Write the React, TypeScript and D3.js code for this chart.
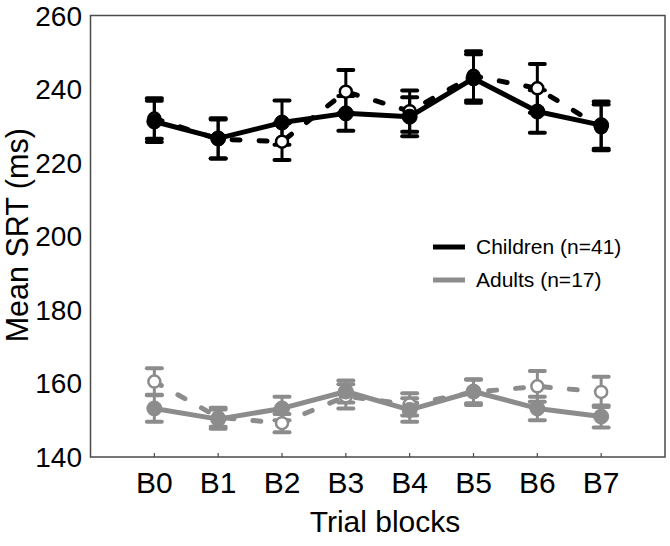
import * as d3 from "d3";

const categories = ["B0", "B1", "B2", "B3", "B4", "B5", "B6", "B7"];
const yTicks = [140, 160, 180, 200, 220, 240, 260];

// children, filled markers / solid line
const childSolid = [231.2, 226.6, 230.9, 233.4, 232.5, 242.9, 233.9, 230.2];
const childSolidErr = [5.6, 5.5, 6.0, 4.7, 5.3, 6.6, 5.8, 6.4];
// children, open markers / dashed line
const childDashed = [232.0, 226.4, 225.7, 239.3, 234.0, 243.6, 240.2, 229.6];
const childDashedErr = [5.5, 5.3, 5.0, 5.9, 5.6, 6.7, 6.6, 6.2];
// adults
const adultSolid = [153.2, 150.3, 153.2, 157.8, 152.8, 157.8, 153.2, 151.0];
const adultSolidErr = [3.6, 2.6, 3.2, 3.0, 3.2, 3.2, 3.2, 3.0];
const adultDashed = [160.5, 150.8, 149.2, 156.5, 154.3, 157.6, 159.2, 157.7];
const adultDashedErr = [3.6, 2.6, 2.5, 3.3, 3.0, 3.5, 4.2, 4.1];

const legendItems = [
  { label: "Children (n=41)", color: "#000000" },
  { label: "Adults (n=17)", color: "#8c8c8c" },
];

const W = 670;
const H = 546;
const plot = { left: 90.5, right: 665, top: 15.5, bottom: 457 };
const font = "'Liberation Sans', Arial, Helvetica, sans-serif";

export default function App() {
  const x = d3.scaleLinear().domain([-1, 8]).range([plot.left, plot.right]);
  const y = d3.scaleLinear().domain([140, 260]).range([plot.bottom, plot.top]);

  const line = d3
    .line<number>()
    .x((_, i) => x(i))
    .y((d) => y(d));

  const series = [
    { vals: childDashed, err: childDashedErr, color: "#000", dashed: true, open: true, r: 6 },
    { vals: childSolid, err: childSolidErr, color: "#000", dashed: false, open: false, r: 7.5 },
    { vals: adultDashed, err: adultDashedErr, color: "#8c8c8c", dashed: true, open: true, r: 6 },
    { vals: adultSolid, err: adultSolidErr, color: "#8c8c8c", dashed: false, open: false, r: 7.5 },
  ];

  const capW = 7.5;

  return (
    <svg
      width={W}
      height={H}
      style={{ position: "absolute", left: 0, top: 0, background: "#fff" }}
      fontFamily={font}
    >
      <rect
        x={plot.left}
        y={plot.top}
        width={plot.right - plot.left}
        height={plot.bottom - plot.top}
        fill="none"
        stroke="#4a4a4a"
        strokeWidth={1.5}
      />

      {/* x ticks + labels */}
      {categories.map((c, i) => (
        <g key={c}>
          <line x1={x(i)} x2={x(i)} y1={plot.bottom} y2={plot.bottom - 4} stroke="#4a4a4a" strokeWidth={1.2} />
          <text x={x(i)} y={493} fontSize={30} textAnchor="middle" fill="#000">
            {c}
          </text>
        </g>
      ))}

      {/* y labels */}
      {yTicks.map((t) => (
        <text key={t} x={82} y={y(t) + 10} fontSize={28} textAnchor="end" fill="#000">
          {t}
        </text>
      ))}

      <text x={385} y={532} fontSize={30} textAnchor="middle" fill="#000">
        Trial blocks
      </text>
      <text
        transform={`translate(28,${(plot.top + plot.bottom) / 2 - 1}) rotate(-90)`}
        fontSize={30.5}
        textAnchor="middle"
        fill="#000"
      >
        Mean SRT (ms)
      </text>

      {/* lines */}
      {series.map((s, k) => (
        <path
          key={"l" + k}
          d={line(s.vals) ?? ""}
          fill="none"
          stroke={s.color}
          strokeWidth={5}
          strokeLinecap="round"
          strokeLinejoin="round"
          strokeDasharray={s.dashed ? "8 19" : undefined}
        />
      ))}

      {/* error bars */}
      {series.map((s, k) =>
        s.vals.map((v, i) => {
          const cx = x(i);
          const top = y(v + s.err[i]);
          const bot = y(v - s.err[i]);
          return (
            <g key={"e" + k + "-" + i} stroke={s.color} strokeLinecap="round">
              <line x1={cx} x2={cx} y1={top} y2={bot} strokeWidth={3} />
              <line x1={cx - capW} x2={cx + capW} y1={top} y2={top} strokeWidth={4} />
              <line x1={cx - capW} x2={cx + capW} y1={bot} y2={bot} strokeWidth={4} />
            </g>
          );
        })
      )}

      {/* markers: open first, filled on top */}
      {[0, 2, 1, 3].map((k) => {
        const s = series[k];
        return s.vals.map((v, i) => (
          <circle
            key={"m" + k + "-" + i}
            cx={x(i)}
            cy={y(v)}
            r={s.r}
            fill={s.open ? "#fff" : s.color}
            stroke={s.color}
            strokeWidth={s.open ? 2.5 : 1}
          />
        ));
      })}

      {/* legend */}
      {legendItems.map((it, i) => (
        <g key={it.label} transform={`translate(0,${247 + i * 33})`}>
          <line x1={433} x2={465} y1={0} y2={0} stroke={it.color} strokeWidth={5} />
          <text x={476} y={7} fontSize={21} fill="#000">
            {it.label}
          </text>
        </g>
      ))}
    </svg>
  );
}
